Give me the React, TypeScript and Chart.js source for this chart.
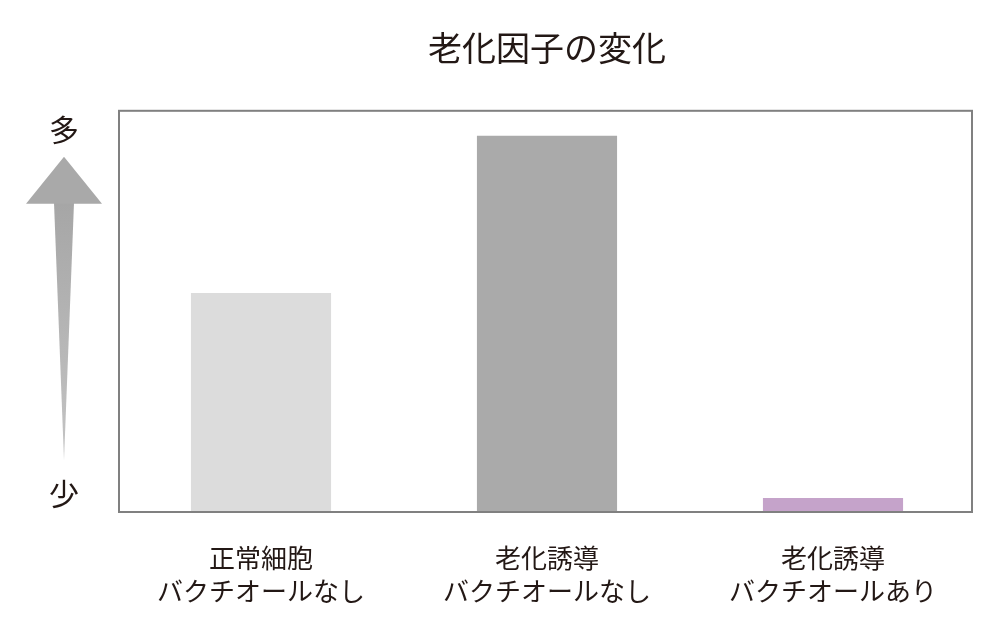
import React, { useEffect, useRef } from "react";
import { Chart, registerables } from "chart.js";

Chart.register(...registerables);

const title = "老化因子の変化";
const categories: string[][] = [
  ["正常細胞", "バクチオールなし"],
  ["老化誘導", "バクチオールなし"],
  ["老化誘導", "バクチオールあり"],
];
const values: number[] = [54.6, 93.8, 3.5];
const barColors: string[] = ["#dcdcdc", "#aaaaaa", "#c5a3ca"];
const axisHigh = "多";
const axisLow = "少";

const FONT = "'Noto Sans CJK JP', 'Noto Sans', sans-serif";
const TEXT = "#231815";

const decorPlugin = {
  id: "decor",
  afterDraw(chart: any) {
    const { ctx, chartArea } = chart;
    const { top, bottom } = chartArea;
    const left = chartArea.left + 1;
    const right = chartArea.right - 4;
    ctx.save();
    // frame
    ctx.strokeStyle = "#808080";
    ctx.lineWidth = 2;
    ctx.strokeRect(left, top, right - left, bottom - top);
    // arrow
    const cx = 64;
    const headTop = top + 46;
    const headBase = top + 93;
    const tipY = bottom - 52;
    const grad = ctx.createLinearGradient(0, headBase, 0, tipY);
    grad.addColorStop(0, "#a6a6a6");
    grad.addColorStop(1, "#c4c4c4");
    ctx.fillStyle = grad;
    ctx.beginPath();
    ctx.moveTo(cx - 10, headBase - 1);
    ctx.lineTo(cx + 10, headBase - 1);
    ctx.lineTo(cx, tipY);
    ctx.closePath();
    ctx.fill();
    ctx.fillStyle = "#a9a9a9";
    ctx.beginPath();
    ctx.moveTo(cx, headTop);
    ctx.lineTo(cx + 38, headBase);
    ctx.lineTo(cx - 38, headBase);
    ctx.closePath();
    ctx.fill();
    // labels
    ctx.fillStyle = TEXT;
    ctx.font = `30px ${FONT}`;
    ctx.textAlign = "center";
    ctx.textBaseline = "middle";
    ctx.fillText(axisHigh, cx, top + 19);
    ctx.fillText(axisLow, cx, bottom - 18);
    ctx.restore();
  },
};

export default function App() {
  const ref = useRef<HTMLCanvasElement | null>(null);
  useEffect(() => {
    if (!ref.current) return;
    const chart = new Chart(ref.current, {
      type: "bar",
      data: {
        labels: categories,
        datasets: [
          {
            data: values,
            backgroundColor: barColors,
            borderWidth: 0,
            barPercentage: 0.49,
            categoryPercentage: 1,
          },
        ],
      },
      options: {
        animation: false,
        responsive: false,
        maintainAspectRatio: false,
        layout: { padding: { left: 0, right: 24, top: 0, bottom: 0 } },
        plugins: {
          legend: { display: false },
          tooltip: { enabled: false },
          title: {
            display: true,
            fullSize: false,
            text: title,
            color: TEXT,
            font: { family: FONT, size: 34, weight: "normal" },
            padding: { top: 28, bottom: 42 },
          },
        },
        scales: {
          x: {
            grid: { display: false },
            border: { display: false },
            ticks: {
              color: TEXT,
              font: { family: FONT, size: 26, lineHeight: 1.27 },
              padding: 22,
              maxRotation: 0,
              autoSkip: false,
            },
            afterFit(scale: any) {
              scale.height = 128;
            },
          },
          y: {
            min: 0,
            max: 100,
            grid: { display: false },
            border: { display: false },
            ticks: { display: false },
            afterFit(scale: any) {
              scale.width = 118;
            },
          },
        },
      },
      plugins: [decorPlugin],
    });
    return () => chart.destroy();
  }, []);
  return (
    <div style={{ position: "absolute", left: 0, top: 0, width: 1000, height: 640, background: "#fff" }}>
      <canvas ref={ref} width={1000} height={640} />
    </div>
  );
}
